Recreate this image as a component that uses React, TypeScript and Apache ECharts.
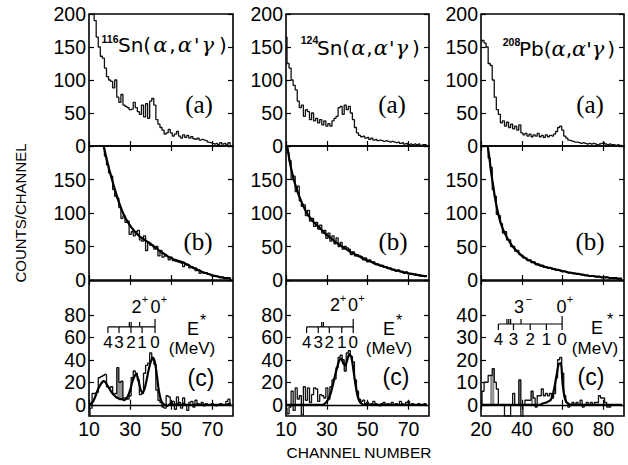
import React, { useEffect, useRef } from "react";
import * as echarts from "echarts";

// ---------- data (channel number -> counts/channel) ----------
const SN_START = 10; // first channel of the Sn spectra
const PB_START = 20; // first channel of the Pb spectra

// 116Sn
const SN116_A = [260, 240, 215, 190, 165, 150, 136, 133, 118, 105, 100, 98, 88, 100, 74, 66, 78, 62, 60, 58, 55, 56, 66, 58, 52, 48, 62, 44, 64, 42, 68, 72, 62, 40, 33, 28, 24, 18, 20, 25, 20, 15, 18, 22, 15, 12, 17, 13, 16, 12, 14, 11, 10, 12, 9, 10, 9, 8, 6, 5, 4, 3, 4, 2, 5, 3, 4, 2, 5, 3];
const SN116_B = [240, 235, 230, 225, 218, 212, 206, 200, 185, 172, 160, 155, 135, 125, 122, 108, 92, 96, 86, 88, 68, 72, 66, 72, 74, 60, 58, 66, 44, 56, 52, 52, 46, 50, 36, 44, 34, 36, 35, 30, 34, 29, 28, 27, 26, 25, 20, 24, 22, 18, 20, 17, 14, 15, 10, 12, 10, 11, 9, 8, 6, 7, 5, 5, 4, 4, 2, 3, 2, 2];
const SN116_B_FIT = [240, 235, 230, 225, 218, 212, 206, 201, 188, 175, 163, 152, 141, 131, 121, 112, 104, 97, 91, 86, 81, 77, 73, 70, 67, 64, 62, 60, 58, 56, 54, 51, 49, 47, 44, 42, 40, 38, 36, 34, 33, 31, 30, 29, 28, 27, 26, 24, 23, 21, 19, 18, 17, 15, 14, 12, 11, 10, 9, 8, 7, 6, 6, 5, 4, 4, 3, 3, 3, 2];
const SN116_C = [-10, -3, 10, 10, 11, 24, 25, 26, 27, 16, 15, 16, 9, 10, 33, 20, 21, 6, 6, 5, 8, 24, 30, 28, 22, 9, 10, 28, 35, 37, 46, 40, 36, 13, 4, 2, -2, -3, 8, 7, 0, 3, -4, 7, 2, -3, 6, 0, -5, 2, 3, -2, 4, 1, 0, 2, -1, 1, 0, 0, 1, 0, -1, 0, 1, 0, 0, 3, 5, 0];
const SN116_C_FIT = [0, 1, 3, 7, 12, 16, 19, 21, 20, 17, 14, 11, 9, 7, 6, 5, 5, 4, 5, 8, 13, 20, 25, 27, 22, 14, 11, 14, 22, 31, 38, 42, 38, 26, 12, 4, 1, 0, -1, 0, 1, 0, 0, 1, 0, 0, 1, 0, 0, 0, 0, 0, 0, 0, 0, 0, 0, 0, 0, 0, 0, 0, 0, 0, 0, 0, 0, 0, 1, 0];

// 124Sn
const SN124_A = [165, 125, 118, 100, 92, 85, 68, 58, 62, 45, 55, 52, 40, 50, 38, 42, 35, 40, 32, 38, 30, 34, 30, 38, 42, 45, 58, 60, 48, 62, 55, 60, 50, 40, 28, 20, 16, 14, 15, 12, 13, 10, 12, 9, 10, 8, 9, 8, 7, 8, 7, 6, 7, 6, 5, 6, 4, 5, 3, 4, 2, 3, 2, 3, 2, 3, 1, 2, 2, 1];
const SN124_B = [215, 190, 178, 150, 155, 132, 140, 118, 110, 112, 96, 104, 88, 92, 80, 86, 76, 82, 70, 74, 62, 70, 58, 66, 54, 63, 50, 56, 46, 50, 48, 46, 38, 42, 36, 38, 36, 35, 30, 33, 27, 30, 27, 27, 23, 24, 21, 22, 19, 20, 17, 18, 15, 16, 13, 15, 12, 13, 10, 12, 9, 10, 8, 9, 7, 8, 6, 7, 5, 6];
const SN124_B_FIT = [215, 192, 174, 160, 148, 138, 129, 121, 114, 107, 101, 96, 92, 88, 85, 82, 79, 76, 73, 70, 67, 65, 62, 60, 57, 55, 53, 51, 49, 47, 45, 43, 41, 40, 38, 36, 35, 33, 32, 30, 29, 28, 27, 25, 24, 23, 22, 21, 20, 19, 18, 17, 16, 15, 14, 14, 13, 12, 11, 11, 10, 9, 9, 8, 8, 7, 7, 6, 6, 6];
const SN124_C = [-3, -8, -2, 12, -5, 15, 5, 8, -9, 16, 4, 15, 2, 9, 15, 14, 3, 9, 8, 6, 15, 5, 16, 22, 23, 33, 42, 44, 40, 30, 46, 48, 43, 38, 22, 12, 5, 3, 4, 1, 2, 0, 1, 3, 1, 0, -1, 1, 2, 0, 1, 0, 2, 0, 1, 0, 3, 1, 0, 2, 3, 0, 1, 0, 0, 1, 0, 0, 1, 0];
const SN124_C_FIT = [0, 0, 0, 0, 0, 0, 0, 0, 0, 0, 0, 0, 0, 0, 0, 0, 0, 0, 0, 1, 3, 6, 11, 18, 26, 33, 39, 41, 37, 35, 40, 45, 42, 31, 18, 8, 3, 1, 0, 0, 0, 0, 0, 0, 0, 0, 0, 0, 0, 0, 0, 0, 0, 0, 0, 0, 0, 0, 0, 0, 0, 0, 0, 0, 0, 0, 0, 0, 0, 0];

// 208Pb
const PB208_A = [158, 160, 156, 150, 125, 122, 100, 74, 55, 48, 35, 38, 30, 36, 28, 33, 26, 30, 24, 32, 20, 17, 19, 15, 18, 14, 17, 15, 19, 14, 16, 13, 17, 14, 16, 15, 18, 22, 28, 30, 24, 15, 12, 9, 8, 7, 6, 6, 5, 4, 5, 4, 3, 4, 3, 4, 3, 2, 3, 4, 5, 3, 2, 3, 2, 2, 1, 2, 1, 1];
const PB208_B = [260, 240, 222, 200, 182, 168, 135, 125, 98, 96, 84, 70, 72, 60, 60, 50, 50, 43, 44, 38, 37, 33, 33, 29, 30, 26, 27, 23, 24, 21, 22, 19, 20, 18, 18, 16, 17, 15, 15, 14, 13, 13, 12, 11, 11, 10, 10, 9, 9, 8, 8, 7, 7, 6, 6, 6, 5, 5, 5, 4, 4, 4, 4, 3, 3, 3, 3, 2, 2, 2];
const PB208_B_FIT = [260, 240, 220, 205, 185, 160, 140, 120, 105, 92, 82, 74, 68, 62, 57, 52, 48, 45, 42, 39, 36, 34, 32, 30, 29, 27, 26, 24, 23, 22, 21, 20, 19, 18, 18, 17, 16, 15, 15, 14, 13, 13, 12, 11, 11, 10, 10, 9, 9, 8, 8, 7, 7, 6, 6, 6, 5, 5, 5, 4, 4, 4, 4, 3, 3, 3, 3, 2, 2, 2];
const PB208_C = [0, 6, 10, 10, 13, 13, 16, 10, 7, 0, 0, 0, -5, -5, -5, 0, 5, 0, 0, 11, -5, 0, 2, 2, 2, 6, 3, -1, 4, 4, 7, 4, 5, 4, 5, 3, 5, 12, 20, 21, 14, 4, 1, -1, 0, 1, 0, 1, 0, 2, -1, 0, 1, 0, 1, 0, 1, 1, 4, 3, 3, 1, -1, -1, 0, 0, 0, 0, 0, 0];
const PB208_C_FIT = [0, 0, 0, 0, 0, 0, 0, 0, 0, 0, 0, 0, 0, 0, 0, 0, 0, 0, 0, 0, 0, 0, 0, 0, 0, 0, 0, 0, 0, 0, 0.5, 0.8, 1, 1.5, 2, 4, 8, 13, 18, 18.5, 9, 3, 1, 0.3, 0, 0, 0, 0, 0, 0, 0, 0, 0, 0, 0, 0, 0, 0, 0, 0, 0, 0, 0, 0, 0, 0, 0, 0, 0, 0];

// shaded (hatched) channels in the (c) spectra
const SHADE_SN116 = [24, 25, 26];
const SHADE_SN124 = [39];
const SHADE_PB208 = [25, 26, 39, 45];

// excitation-energy rulers (channel of E* = 4,3,2,1,0 MeV)
const E_LABELS = ["4", "3", "2", "1", "0"];
const E_CH_SN116 = [19.2, 24.6, 30.4, 35.8, 42.1];
const E_CH_SN124 = [20.1, 25.8, 31.2, 37.3, 42.9];
const E_CH_PB208 = [28.5, 35.9, 44.1, 52.0, 59.7];
const E_LEVEL_SN = 69.2;
const E_LEVEL_PB = 35.9;
const STATE_MARKS_SN116 = [29.6, 30.5, 34.6];
const STATE_MARKS_SN124 = [27.5, 28.3];
const STATE_MARKS_PB208 = [32.7, 33.6, 34.5, 39.6];

// tick values
const X_TICKS_SN = [10, 30, 50, 70];
const X_TICKS_PB = [20, 40, 60, 80];
const Y_TICKS_AB = [0, 50, 100, 150, 200];
const Y_LABELS_A = [0, 50, 100, 150, 200];
const Y_LABELS_B = [0, 50, 100, 150];
const Y_LABELS_C_SN = [0, 20, 40, 60, 80];
const Y_LABELS_C_PB = [0, 10, 20, 30, 40];

// ---------- layout ----------
const FONT = "Liberation Sans";
const COLS = [
  { left: 89, width: 144, min: 10, max: 80, xt: X_TICKS_SN },
  { left: 286, width: 143, min: 10, max: 80, xt: X_TICKS_SN },
  { left: 481, width: 143, min: 20, max: 90, xt: X_TICKS_PB },
];
const ROWS = [
  { top: 14, height: 132 },
  { top: 146, height: 134 },
  { top: 281, height: 135 },
];

type Panel = {
  col: number; row: number; start: number; hist: number[]; fit?: number[];
  shade?: number[]; eCh?: number[]; level?: number; marks?: number[];
};

const PANELS: Panel[] = [
  { col: 0, row: 0, start: SN_START, hist: SN116_A },
  { col: 0, row: 1, start: SN_START, hist: SN116_B, fit: SN116_B_FIT },
  { col: 0, row: 2, start: SN_START, hist: SN116_C, fit: SN116_C_FIT, shade: SHADE_SN116, eCh: E_CH_SN116, level: E_LEVEL_SN, marks: STATE_MARKS_SN116 },
  { col: 1, row: 0, start: SN_START, hist: SN124_A },
  { col: 1, row: 1, start: SN_START, hist: SN124_B, fit: SN124_B_FIT },
  { col: 1, row: 2, start: SN_START, hist: SN124_C, fit: SN124_C_FIT, shade: SHADE_SN124, eCh: E_CH_SN124, level: E_LEVEL_SN, marks: STATE_MARKS_SN124 },
  { col: 2, row: 0, start: PB_START, hist: PB208_A },
  { col: 2, row: 1, start: PB_START, hist: PB208_B, fit: PB208_B_FIT },
  { col: 2, row: 2, start: PB_START, hist: PB208_C, fit: PB208_C_FIT, shade: SHADE_PB208, eCh: E_CH_PB208, level: E_LEVEL_PB, marks: STATE_MARKS_PB208 },
];

const pts = (start: number, vals: number[]) => vals.map((v, i) => [start + i, v]);

function buildOption() {
  const grid: any[] = [];
  const xAxis: any[] = [];
  const yAxis: any[] = [];
  const series: any[] = [];

  PANELS.forEach((p, g) => {
    const c = COLS[p.col];
    const r = ROWS[p.row];
    grid.push({ left: c.left, top: r.top, width: c.width, height: r.height, show: true, borderColor: "#000", borderWidth: 1.6, backgroundColor: "transparent" });

    let ymin = 0, ymax = 200, yl = Y_LABELS_A, yt = Y_TICKS_AB;
    if (p.row === 1) yl = Y_LABELS_B;
    if (p.row === 2) {
      if (p.col === 2) { ymin = -5; ymax = 55; yl = Y_LABELS_C_PB; yt = Y_LABELS_C_PB; }
      else { ymin = -10; ymax = 110; yl = Y_LABELS_C_SN; yt = Y_LABELS_C_SN; }
    }
    const tick = (vals: number[]) => ({ show: true, inside: true, length: 5, customValues: vals, lineStyle: { color: "#000", width: 1.2 } });
    const lab = (show: boolean, vals: number[]) => ({ show, customValues: vals, margin: 3, color: "#000", fontSize: 19.5, fontFamily: FONT });
    const xBase = { type: "value", gridIndex: g, min: c.min, max: c.max, axisLine: { show: false }, splitLine: { show: false } };
    xAxis.push({ ...xBase, position: "bottom", axisTick: tick(c.xt), axisLabel: lab(p.row === 2, c.xt) });
    xAxis.push({ ...xBase, position: "top", axisTick: tick(c.xt), axisLabel: { show: false } });
    const yBase = { type: "value", gridIndex: g, min: ymin, max: ymax, axisLine: { show: false }, splitLine: { show: false } };
    yAxis.push({ ...yBase, position: "left", axisTick: tick(yt), axisLabel: lab(true, yl) });
    yAxis.push({ ...yBase, position: "right", axisTick: tick(yt), axisLabel: { show: false } });

    const ax = { xAxisIndex: 2 * g, yAxisIndex: 2 * g };

    if (p.shade && p.fit) {
      const fit = p.fit, hist = p.hist, st = p.start;
      series.push({
        type: "custom", ...ax, silent: true, clip: true,
        data: p.shade.map((ch) => [ch, fit[ch - st], hist[ch - st]]),
        renderItem: (_params: any, api: any) => {
          const ch = api.value(0);
          const a = api.coord([ch - 0.5, api.value(1)]);
          const b = api.coord([ch + 0.5, api.value(2)]);
          return {
            type: "rect",
            shape: { x: a[0], y: Math.min(a[1], b[1]), width: b[0] - a[0], height: Math.abs(b[1] - a[1]) },
            style: { fill: "#8c8c8c" },
          };
        },
      });
    }

    series.push({
      type: "line", ...ax, data: pts(p.start, p.hist), step: "middle", symbol: "none", showSymbol: false,
      silent: true, clip: true, lineStyle: { color: "#111", width: 1.3 }, z: 3,
    });

    if (p.fit) {
      const s: any = {
        type: "line", ...ax, data: pts(p.start, p.fit), smooth: 0.3, symbol: "none", showSymbol: false,
        silent: true, clip: true, lineStyle: { color: "#000", width: 2.2 }, z: 4,
      };
      if (p.row === 2) {
        s.markLine = { silent: true, symbol: "none", label: { show: false }, lineStyle: { color: "#000", width: 1.4, type: "solid" }, data: [{ yAxis: 0 }] };
      }
      series.push(s);
    }

    if (p.eCh && p.level !== undefined) {
      const eCh = p.eCh, level = p.level;
      series.push({
        type: "custom", ...ax, silent: true, z: 5,
        data: eCh.map((ch) => [ch, level]),
        renderItem: (params: any, api: any) => {
          const i = params.dataIndex;
          const pt = api.coord([api.value(0), api.value(1)]);
          const kids: any[] = [
            { type: "line", shape: { x1: pt[0], y1: pt[1], x2: pt[0], y2: pt[1] + 6 }, style: { stroke: "#000", lineWidth: 1.2 } },
            { type: "text", x: pt[0], y: pt[1] + 16, style: { text: E_LABELS[i], fill: "#000", fontSize: 17, fontFamily: FONT, align: "center", verticalAlign: "middle" } },
          ];
          if (i === 0) {
            const q = api.coord([eCh[eCh.length - 1], level]);
            kids.push({ type: "line", shape: { x1: pt[0], y1: pt[1], x2: q[0], y2: q[1] }, style: { stroke: "#000", lineWidth: 1.2 } });
          }
          return { type: "group", children: kids };
        },
      });
      const marks = (p.marks || []).map((ch) => [ch, level, 5]).concat([[eCh[eCh.length - 1], level, 8]]);
      series.push({
        type: "custom", ...ax, silent: true, z: 5,
        data: marks,
        renderItem: (_params: any, api: any) => {
          const pt = api.coord([api.value(0), api.value(1)]);
          return { type: "line", shape: { x1: pt[0], y1: pt[1], x2: pt[0], y2: pt[1] - api.value(2) }, style: { stroke: "#000", lineWidth: 1.2 } };
        },
      });
    }
  });

  // ---------- annotations ----------
  const t = (text: string, x: number, y: number, size: number, family = FONT, extra: any = {}) => ({
    type: "text", x, y, silent: true, z: 10,
    style: { text, fill: "#000", fontSize: size, fontFamily: family, align: "center", verticalAlign: "middle", ...extra },
  });
  const title = (sym: string, x: number, y: number, gPad: number) => ({
    type: "text", x, y, silent: true, z: 10,
    style: {
      text: `{n|${sym}(}{g|α}{n|,}{g|α}{n|'}{g|γ}{q|)}`,
      rich: {
        n: { fontFamily: "DejaVu Sans", fontSize: 20, color: "#000" },
        g: { fontFamily: "DejaVu Serif", fontStyle: "italic", fontSize: 21, color: "#000", padding: [0, gPad, 0, gPad] },
        q: { fontFamily: "DejaVu Sans", fontSize: 20, color: "#000", padding: [0, 0, 0, 3] },
      },
      align: "left", verticalAlign: "middle",
    },
  });

  const graphic: any[] = [
    { ...t("COUNTS/CHANNEL", 20, 213, 15), rotation: Math.PI / 2 },
    t("CHANNEL NUMBER", 359, 452, 15.5),
    t("116", 110, 39, 10.5, FONT, { fontWeight: "bold" }),
    t("124", 309.5, 40, 10.5, FONT, { fontWeight: "bold" }),
    t("208", 511.5, 42, 10.5, FONT, { fontWeight: "bold" }),
    title("Sn", 118, 45, 2),
    title("Sn", 317, 48, 1),
    title("Pb", 519, 49, 0),
    t("(a)", 199, 104, 25, "Liberation Serif"),
    t("(a)", 392, 104, 25, "Liberation Serif"),
    t("(a)", 590, 104, 25, "Liberation Serif"),
    t("(b)", 198, 241, 25, "Liberation Serif"),
    t("(b)", 393, 241, 25, "Liberation Serif"),
    t("(b)", 590, 241, 25, "Liberation Serif"),
    t("(c)", 201, 378, 23),
    t("(c)", 396, 377, 23),
    t("(c)", 591, 377, 23),
    t("E", 193, 329, 18), t("*", 203, 320, 16),
    t("E", 389, 329, 18), t("*", 399, 320, 16),
    t("E", 597, 328, 18), t("*", 610, 319, 16),
    t("(MeV)", 192, 348, 17),
    t("(MeV)", 389, 348, 17),
    t("(MeV)", 595, 348, 17),
    t("2", 136.5, 307, 18), t("+", 145, 299, 11), t("0", 155.5, 307, 18), t("+", 164, 299, 11),
    t("2", 335, 305, 18), t("+", 343, 298, 11), t("0", 353, 305, 18), t("+", 361.5, 298, 11),
    t("3", 519, 307, 18), t("−", 529, 299, 11), t("0", 561.5, 307, 18), t("+", 570, 299, 11),
  ];

  return { animation: false, grid, xAxis, yAxis, series, graphic };
}

export default function App() {
  const ref = useRef<HTMLDivElement>(null);
  useEffect(() => {
    if (!ref.current) return;
    const chart = echarts.init(ref.current, undefined, { renderer: "svg" });
    chart.setOption(buildOption() as any);
    return () => chart.dispose();
  }, []);
  return <div ref={ref} style={{ position: "absolute", left: 0, top: 0, width: 628, height: 465, background: "#fff" }} />;
}
